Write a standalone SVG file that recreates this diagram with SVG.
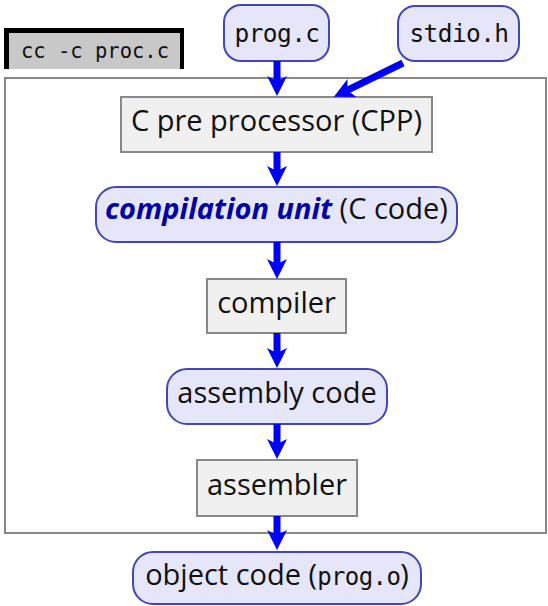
<svg xmlns="http://www.w3.org/2000/svg" width="548" height="606" viewBox="0 0 548 606">
<defs>
<style>
.sans{font-family:"Open Sans","Noto Sans","Liberation Sans",sans-serif;font-size:29px;fill:#111;text-anchor:middle}
.mono{font-family:"DejaVu Sans Mono","Liberation Mono",monospace}
.big{font-size:24.5px;letter-spacing:-0.6px}
.round{fill:#e6e6fa;stroke:#4444bb;stroke-width:2}
.box{fill:#f0f0f0;stroke:#888;stroke-width:2}
.edge{stroke:#0000ff;stroke-width:7;fill:none;marker-end:url(#ah)}
</style>
<marker id="ah" viewBox="0 0 20 20" refX="10" refY="10" markerWidth="20" markerHeight="20" markerUnits="userSpaceOnUse" orient="auto">
<path d="M0,0 L20,10 L0,20 L5,10 Z" fill="#0000ff"/>
</marker>
</defs>
<rect width="548" height="606" fill="#fff"/>
<g id="container">
<rect x="5" y="78" width="541" height="455" fill="#fff" stroke="#888" stroke-width="2"/>
</g>
<g id="label">
<rect x="4" y="28" width="180" height="41" fill="#000"/>
<rect x="9" y="33" width="171" height="36" fill="#c8c8c8"/>
<text x="95" y="58" class="mono" font-size="20.5" text-anchor="middle" fill="#111">cc -c proc.c</text>
</g>
<g id="prog_c">
<rect class="round" x="224" y="5" width="105" height="56" rx="17"/>
<text x="277" y="42" class="mono big" text-anchor="middle" fill="#111">prog.c</text>
</g>
<g id="stdio_h">
<rect class="round" x="398" y="6" width="121" height="55" rx="17"/>
<text x="459" y="42" class="mono big" text-anchor="middle" fill="#111">stdio.h</text>
</g>
<g id="cpp">
<rect class="box" x="121" y="97" width="311" height="55"/>
<text x="276.5" y="131" class="sans">C pre processor (CPP)</text>
</g>
<g id="compilation_unit">
<rect class="round" x="96" y="187" width="361" height="55" rx="20"/>
<text x="276.5" y="219" class="sans"><tspan font-weight="bold" font-style="italic" fill="#0000a8">compilation unit</tspan> (C code)</text>
</g>
<g id="compiler">
<rect class="box" x="207" y="279" width="139" height="54"/>
<text x="276.5" y="313" class="sans">compiler</text>
</g>
<g id="assembly_code">
<rect class="round" x="167" y="369" width="220" height="55" rx="20"/>
<text x="277" y="403" class="sans">assembly code</text>
</g>
<g id="assembler">
<rect class="box" x="197" y="460" width="160" height="56"/>
<text x="277" y="495" class="sans">assembler</text>
</g>
<g id="object_code">
<rect class="round" x="133" y="552" width="288" height="52" rx="20"/>
<text x="277" y="585" class="sans">object code (<tspan class="mono" font-size="24" letter-spacing="-0.6">prog.o</tspan>)</text>
</g>
<g id="connectors">
<line class="edge" x1="277" y1="61" x2="277" y2="86"/>
<line class="edge" x1="403" y1="63" x2="342.9" y2="92.4"/>
<line class="edge" x1="277" y1="152" x2="277" y2="176"/>
<line class="edge" x1="277" y1="242" x2="277" y2="269"/>
<line class="edge" x1="277" y1="333" x2="277" y2="358"/>
<line class="edge" x1="277" y1="424" x2="277" y2="449"/>
<line class="edge" x1="277" y1="516" x2="277" y2="540"/>
</g>
</svg>
